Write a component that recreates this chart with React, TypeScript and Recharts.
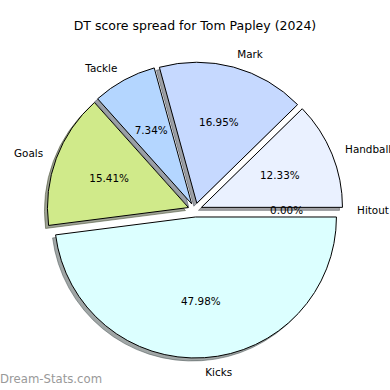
import { PieChart, Pie, Cell, Sector } from "recharts"

const categories = ["Hitout", "Handball", "Mark", "Tackle", "Goals", "Kicks"]
const shares = [0, 12.33, 16.95, 7.34, 15.41, 47.98]
const colors = ["#ffffff", "#eaf1ff", "#c6d9ff", "#b4d6ff", "#d0ea8a", "#dcffff"]

const data = categories.map((name, i) => ({ name, value: shares[i] }))

const RAD = Math.PI / 180
const EXPLODE = 7
const FONT = "DejaVu Sans, sans-serif"

// offset of an exploded wedge along its bisector
function shift(midAngle: number) {
  return [EXPLODE * Math.cos(-midAngle * RAD), EXPLODE * Math.sin(-midAngle * RAD)]
}

// matplotlib-style shadow colour: 30% of the face colour
function shade(hex: string) {
  const n = parseInt(hex.slice(1), 16)
  const r = Math.round(((n >> 16) & 255) * 0.3)
  const g = Math.round(((n >> 8) & 255) * 0.3)
  const b = Math.round((n & 255) * 0.3)
  return `rgb(${r},${g},${b})`
}

function Slice(props: any) {
  const { cx, cy, outerRadius, startAngle, endAngle, midAngle, fill, stroke, strokeWidth, fillOpacity, strokeOpacity } = props
  const [dx, dy] = shift(midAngle)
  const x0 = cx + dx
  const y0 = cy + dy
  if (Math.abs(endAngle - startAngle) < 1e-6) {
    // zero-sized wedge is drawn as a single edge line
    const x1 = x0 + outerRadius * Math.cos(-startAngle * RAD)
    const y1 = y0 + outerRadius * Math.sin(-startAngle * RAD)
    return <line x1={x0} y1={y0} x2={x1} y2={y1} stroke={stroke} strokeWidth={strokeWidth} strokeOpacity={strokeOpacity} />
  }
  return (
    <Sector
      cx={x0}
      cy={y0}
      innerRadius={0}
      outerRadius={outerRadius}
      startAngle={startAngle}
      endAngle={endAngle}
      fill={fill}
      fillOpacity={fillOpacity}
      stroke={stroke}
      strokeOpacity={strokeOpacity}
      strokeWidth={strokeWidth}
    />
  )
}

function SliceLabel(props: any) {
  const { cx, cy, midAngle, outerRadius, percent, name, payload } = props
  const [dx, dy] = shift(midAngle)
  const c = Math.cos(-midAngle * RAD)
  const s = Math.sin(-midAngle * RAD)
  const lx = cx + dx + outerRadius * 1.1 * c
  const ly = cy + dy + outerRadius * 1.1 * s
  const px = cx + dx + outerRadius * 0.6 * c
  const py = cy + dy + outerRadius * 0.6 * s
  return (
    <g fontFamily={FONT} fontSize={10.4} fill="#000">
      <text x={lx} y={ly} textAnchor={c > 0 ? "start" : "end"} dominantBaseline="central">
        {name ?? payload?.name}
      </text>
      <text x={px} y={py} textAnchor="middle" dominantBaseline="central">
        {(percent * 100).toFixed(2)}%
      </text>
    </g>
  )
}

export default function App() {
  return (
    <div style={{ position: "absolute", left: 0, top: 0, width: 390, height: 390, background: "#fff" }}>
      <PieChart width={390} height={390} margin={{ top: 0, right: 0, bottom: 0, left: 0 }}>
        <Pie
          data={data}
          dataKey="value"
          nameKey="name"
          cx={192}
          cy={213}
          outerRadius={141}
          startAngle={0}
          endAngle={360}
          shape={Slice}
          isAnimationActive={false}
          label={false}
          labelLine={false}
        >
          {data.map((d, i) => (
            <Cell key={d.name} fill={shade(colors[i])} fillOpacity={0.5} stroke={shade(colors[i])} strokeOpacity={0.5} strokeWidth={1} />
          ))}
        </Pie>
        <Pie
          data={data}
          dataKey="value"
          nameKey="name"
          cx={195}
          cy={210}
          outerRadius={141}
          startAngle={0}
          endAngle={360}
          shape={Slice}
          isAnimationActive={false}
          label={SliceLabel}
          labelLine={false}
        >
          {data.map((d, i) => (
            <Cell key={d.name} fill={colors[i]} stroke="#000" strokeWidth={1} />
          ))}
        </Pie>
      </PieChart>
      <svg width={390} height={390} style={{ position: "absolute", left: 0, top: 0, pointerEvents: "none" }}>
        <text x={195} y={30} textAnchor="middle" fontFamily={FONT} fontSize={12.5} fill="#000">
          DT score spread for Tom Papley (2024)
        </text>
        <text x={0} y={383} fontFamily={FONT} fontSize={11.7} fill="#999">
          Dream-Stats.com
        </text>
      </svg>
    </div>
  )
}
